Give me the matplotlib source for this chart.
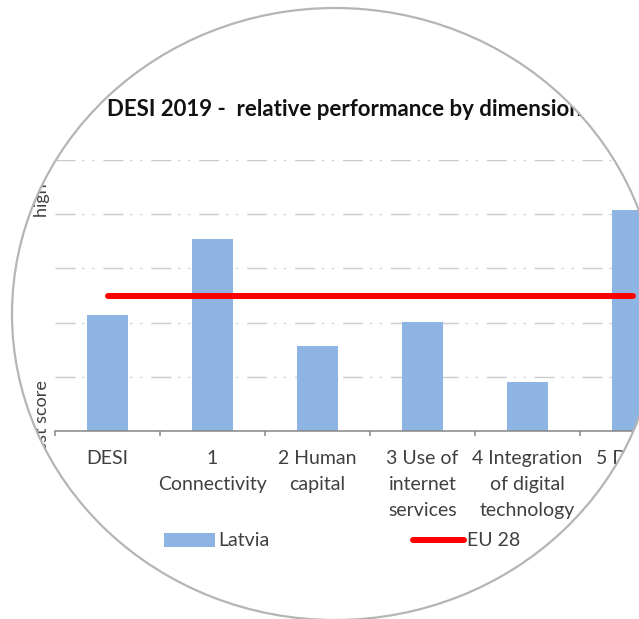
import numpy as np
import matplotlib
matplotlib.use("Agg")
import matplotlib.pyplot as plt
from matplotlib.path import Path
from matplotlib.patches import PathPatch, Ellipse, Patch
from matplotlib.lines import Line2D
from matplotlib.transforms import Affine2D

plt.rcParams['font.family'] = ['Lato', 'DejaVu Sans']

# data (grid step = 1)
categories = ["DESI", "1\nConnectivity", "2 Human\ncapital", "3 Use of\ninternet\nservices",
              "4 Integration\nof digital\ntechnology", "5 Digital\npublic\nservices"]
latvia = [2.14, 3.54, 1.57, 2.01, 0.91, 4.08]
eu_28 = [2.5, 2.5, 2.5, 2.5, 2.5, 2.5]

W, H = 639, 619
fig = plt.figure(figsize=(W / 100, H / 100), dpi=100)
fig.patch.set_facecolor('white')

# main chart (px positions from the reference, right side runs past the frame)
ax = fig.add_axes([55 / W, (H - 431) / H, 630 / W, 271 / H])
x = np.arange(len(categories))
ax.bar(x, latvia, width=0.39, color='#8DB4E2', zorder=2)
ax.plot(x, eu_28, color='#FF0000', lw=4.3, solid_capstyle='round', zorder=3)

ax.set_xlim(-0.5, 5.5)
ax.set_ylim(0, 5)
ax.set_yticks(range(1, 6))
ax.tick_params(axis='y', length=0, labelleft=False)
ax.grid(axis='y', color='#cbcbcb', lw=1.0, linestyle=(0, (14.4, 5.0, 1.4, 5.8, 1.4, 6.5)))
ax.set_axisbelow(True)

for s in ['left', 'top', 'right']:
    ax.spines[s].set_visible(False)
ax.spines['bottom'].set_color('#868686')
ax.spines['bottom'].set_linewidth(1.1)

ax.set_xticks(np.arange(-0.5, 6, 1))
ax.set_xticklabels([])
ax.tick_params(axis='x', which='major', length=3.6, width=1.1, color='#868686', direction='out')
ax.set_xticks(x, minor=True)
ax.set_xticklabels(categories, minor=True, fontsize=14, color='#404040', linespacing=1.62)
ax.tick_params(axis='x', which='minor', length=0, pad=14)

fig.text(42 / W, 1 - 217 / H, "high score", rotation=90, ha='center', va='bottom',
         fontsize=13, color='#404040')
fig.text(42 / W, 1 - 380 / H, "lowest score", rotation=90, ha='center', va='top',
         fontsize=13, color='#404040')

fig.text(107 / W, 1 - 110 / H, "DESI 2019 -  relative performance by dimension",
         ha='left', va='center', fontsize=16, fontweight='bold', color='#111111')

handles = [Patch(facecolor='#8DB4E2', edgecolor='none', label='Latvia'),
           Line2D([0], [0], color='#FF0000', lw=4.3, solid_capstyle='round', label='EU 28')]
fig.legend(handles=handles, loc='center', bbox_to_anchor=(342 / W, 1 - 541 / H), ncol=2,
           frameon=False, fontsize=14, handlelength=2.63, handletextpad=0.15,
           columnspacing=7.4, labelcolor='#404040')

# round frame: white mask outside the ellipse + grey outline
cx, cy, a, b = 335, 314, 323, 306
mask = fig.add_axes([0, 0, 1, 1], zorder=10)
mask.set_xlim(0, W)
mask.set_ylim(H, 0)
mask.axis('off')
mask.patch.set_alpha(0)
rect = Path([(-20, -20), (-20, H + 20), (W + 20, H + 20), (W + 20, -20), (-20, -20)],
            [Path.MOVETO, Path.LINETO, Path.LINETO, Path.LINETO, Path.CLOSEPOLY])
hole = Path.unit_circle().transformed(Affine2D().scale(a, b).translate(cx, cy))
mask.add_patch(PathPatch(Path.make_compound_path(rect, hole), facecolor='white', edgecolor='none'))
mask.add_patch(Ellipse((cx, cy), 2 * a, 2 * b, fill=False, edgecolor='#b5b5b5', lw=1.6))

fig.savefig('out.png', dpi=100)
